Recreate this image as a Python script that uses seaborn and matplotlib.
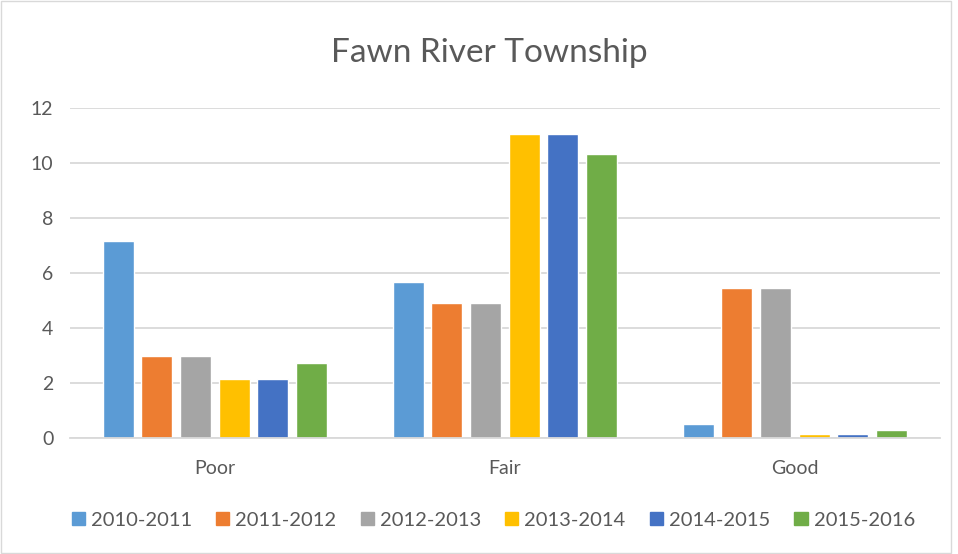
import pandas as pd
import seaborn as sns
import matplotlib.pyplot as plt
from matplotlib.patches import Rectangle

categories = ['Poor', 'Fair', 'Good']
seasons = ['2010-2011', '2011-2012', '2012-2013', '2013-2014', '2014-2015', '2015-2016']
colors = ['#5b9bd5', '#ed7d31', '#a5a5a5', '#ffc000', '#4472c4', '#70ad47']

poor = [7.15, 3.0, 3.0, 2.14, 2.14, 2.73]
fair = [5.67, 4.92, 4.92, 11.07, 11.07, 10.34]
good = [0.52, 5.45, 5.45, 0.16, 0.16, 0.29]

rows = []
for cat, vals in zip(categories, [poor, fair, good]):
    for s, v in zip(seasons, vals):
        rows.append({'Condition': cat, 'Season': s, 'Value': v})
df = pd.DataFrame(rows)

sns.set_theme(style='white')
plt.rcParams['font.family'] = ['Lato', 'DejaVu Sans']
text_color = '#595959'
grid_color = '#d9d9d9'

fig = plt.figure(figsize=(9.58, 5.54), dpi=100)
ax = fig.add_axes([0.073, 0.209, 0.908, 0.596])

sns.barplot(data=df, x='Condition', y='Value', hue='Season', order=categories,
            hue_order=seasons, palette=colors, width=0.8, gap=0.2, ax=ax,
            legend=False, saturation=1)

ax.set_ylim(0, 12)
ax.set_xlim(-0.5, 2.5)
ax.set_yticks(range(0, 13, 2))
ax.yaxis.grid(True, color=grid_color, linewidth=1.3)
ax.set_axisbelow(True)
for side in ['top', 'right', 'left']:
    ax.spines[side].set_visible(False)
ax.spines['bottom'].set_color(grid_color)
ax.spines['bottom'].set_linewidth(1.3)
ax.tick_params(axis='both', length=0, labelsize=14, colors=text_color)
ax.tick_params(axis='x', pad=16)
ax.tick_params(axis='y', pad=12)
ax.set_xlabel('')
ax.set_ylabel('')

fig.text(0.511, 0.904, 'Fawn River Township', ha='center', va='center',
         fontsize=24, color=text_color)

handles = [Rectangle((0, 0), 1, 1, color=c) for c in colors]
fig.legend(handles, seasons, loc='center', bbox_to_anchor=(0.515, 0.061), ncol=6,
           frameon=False, fontsize=14.5, handlelength=0.65, handleheight=0.65,
           handletextpad=0.3, columnspacing=1.2, labelcolor=text_color)

fig.patches.append(Rectangle((0.001, 0.002), 0.992, 0.996, transform=fig.transFigure,
                             fill=False, edgecolor=grid_color, linewidth=1))

fig.savefig('out.png', dpi=100)
